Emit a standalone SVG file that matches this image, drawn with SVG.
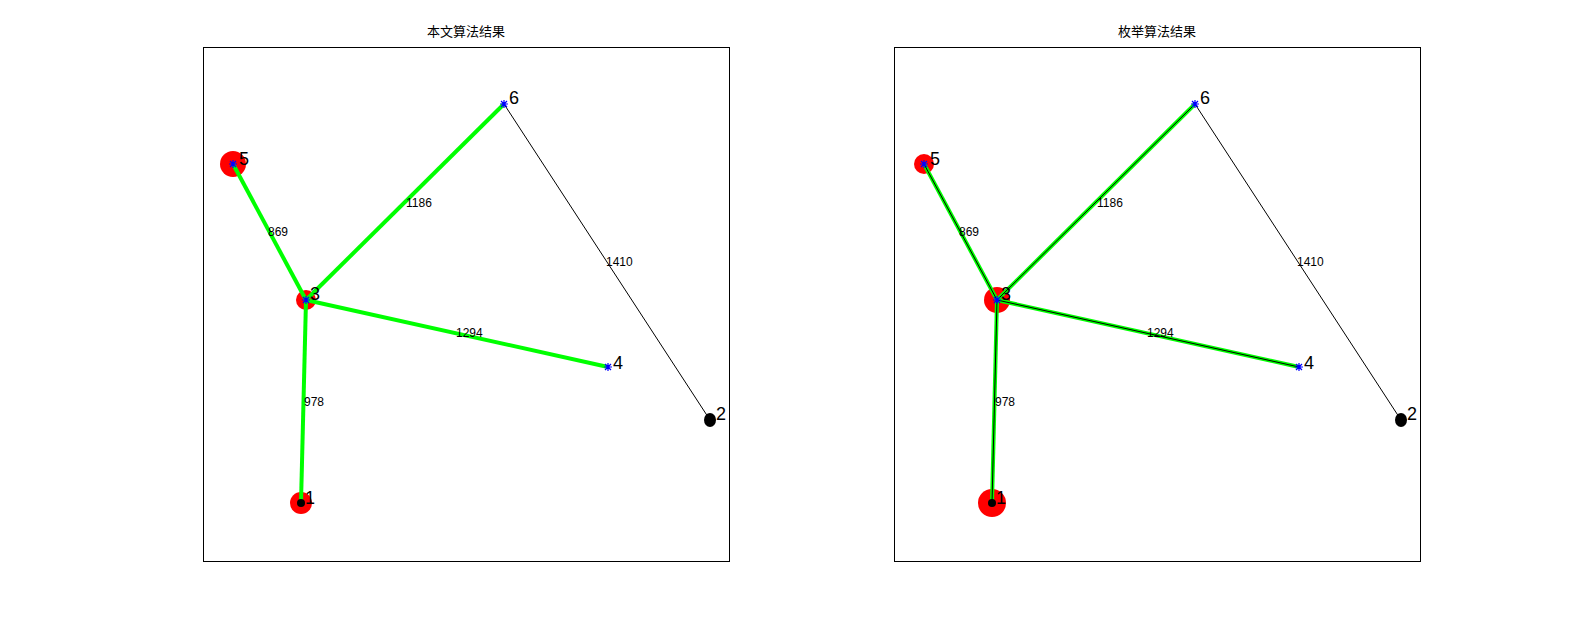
<svg xmlns="http://www.w3.org/2000/svg" width="1569" height="630" viewBox="0 0 1569 630">
<defs>
<style>
.frame{fill:none;stroke:#000;stroke-width:1}
.title{font-family:"Liberation Sans","Noto Sans CJK SC",sans-serif;font-size:13px;fill:#000;text-anchor:middle}
.nl{font-family:"Liberation Sans",Arial,sans-serif;font-size:18px;fill:#000}
.el{font-family:"Liberation Sans",Arial,sans-serif;font-size:12px;fill:#000}
.g{stroke:#00ff00;stroke-width:4;fill:none}
.k{stroke:#000;stroke-width:1;fill:none}
.red{fill:#ff0000}
.star{stroke:#0000ff;stroke-width:1.2;fill:none}
</style>
<path id="ast" d="M-4,0H4M0,-4V4M-3,-3L3,3M-3,3L3,-3"/>
</defs>
<rect width="1569" height="630" fill="#fff"/>

<!-- Left panel -->
<g id="panel-left">
<rect class="frame" x="203.5" y="47.5" width="526" height="514"/>
<text class="title" x="466" y="36">本文算法结果</text>
<g id="L-circles">
<circle class="red" cx="233" cy="164" r="13"/>
<circle class="red" cx="306" cy="300" r="10"/>
<circle class="red" cx="301" cy="503" r="11"/>
</g>
<g id="L-connectors">
<line class="k" x1="504" y1="104" x2="710" y2="420"/>
<line class="g" x1="233" y1="164" x2="306" y2="300"/>
<line class="g" x1="306" y1="300" x2="504" y2="104"/>
<line class="g" x1="306" y1="300" x2="608" y2="367"/>
<line class="g" x1="306" y1="300" x2="301" y2="503"/>
<text class="el" x="268" y="236">869</text>
<text class="el" x="406" y="207">1186</text>
<text class="el" x="606" y="266">1410</text>
<text class="el" x="456" y="337">1294</text>
<text class="el" x="304" y="406">978</text>
</g>
<g id="L-node1"><circle cx="301" cy="503" r="4" fill="#000"/><text class="nl" x="305" y="504">1</text></g>
<g id="L-node2"><ellipse cx="710" cy="420" rx="6" ry="7" fill="#000"/><text class="nl" x="716" y="420">2</text></g>
<g id="L-node3"><use href="#ast" class="star" x="306" y="300"/><text class="nl" x="310" y="300">3</text></g>
<g id="L-node4"><use href="#ast" class="star" x="608" y="367"/><text class="nl" x="613" y="369">4</text></g>
<g id="L-node5"><use href="#ast" class="star" x="233" y="164"/><text class="nl" x="239" y="165">5</text></g>
<g id="L-node6"><use href="#ast" class="star" x="504" y="104"/><text class="nl" x="509" y="104">6</text></g>
</g>

<!-- Right panel -->
<g id="panel-right">
<rect class="frame" x="894.5" y="47.5" width="526" height="514"/>
<text class="title" x="1157" y="36">枚举算法结果</text>
<g id="R-circles">
<circle class="red" cx="924" cy="164" r="10"/>
<circle class="red" cx="997" cy="300" r="13"/>
<circle class="red" cx="992" cy="503" r="14"/>
</g>
<g id="R-connectors">
<line class="k" x1="1195" y1="104" x2="1401" y2="420"/>
<line class="g" x1="924" y1="164" x2="997" y2="300"/>
<line class="g" x1="997" y1="300" x2="1195" y2="104"/>
<line class="g" x1="997" y1="300" x2="1299" y2="367"/>
<line class="g" x1="997" y1="300" x2="992" y2="503"/>
<line class="k" x1="924" y1="164" x2="997" y2="300"/>
<line class="k" x1="997" y1="300" x2="1195" y2="104"/>
<line class="k" x1="997" y1="300" x2="1299" y2="367"/>
<line class="k" x1="997" y1="300" x2="992" y2="503"/>
<text class="el" x="959" y="236">869</text>
<text class="el" x="1097" y="207">1186</text>
<text class="el" x="1297" y="266">1410</text>
<text class="el" x="1147" y="337">1294</text>
<text class="el" x="995" y="406">978</text>
</g>
<g id="R-node1"><circle cx="992" cy="503" r="4" fill="#000"/><text class="nl" x="996" y="504">1</text></g>
<g id="R-node2"><ellipse cx="1401" cy="420" rx="6" ry="7" fill="#000"/><text class="nl" x="1407" y="420">2</text></g>
<g id="R-node3"><use href="#ast" class="star" x="997" y="300"/><text class="nl" x="1001" y="300">3</text></g>
<g id="R-node4"><use href="#ast" class="star" x="1299" y="367"/><text class="nl" x="1304" y="369">4</text></g>
<g id="R-node5"><use href="#ast" class="star" x="924" y="164"/><text class="nl" x="930" y="165">5</text></g>
<g id="R-node6"><use href="#ast" class="star" x="1195" y="104"/><text class="nl" x="1200" y="104">6</text></g>
</g>
</svg>
